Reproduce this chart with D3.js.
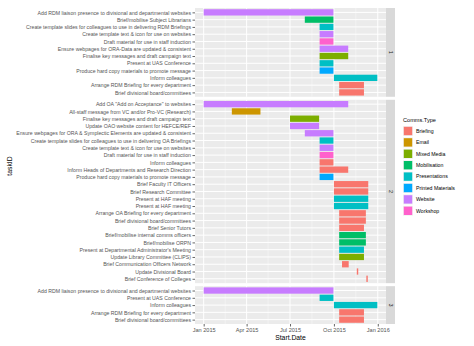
<!DOCTYPE html>
<html><head><meta charset="utf-8">
<script src="https://cdn.jsdelivr.net/npm/d3@7"></script>
<style>body{margin:0;background:#fff}svg{display:block;font-family:"Liberation Sans",Arial,sans-serif}</style>
</head><body><svg id="c" width="474" height="346"></svg>
<script>
// ---------- data ----------
const stripLabels = ["1", "2", "3"];
const typeNames = ["Briefing","Email","Mixed Media","Mobilisation","Presentations","Printed Materials","Website","Workshop"];
const typeColors = ["#F8766D","#CD9600","#7CAE00","#00BE67","#00BFC4","#00A9FF","#C77CFF","#FF61CC"];
const xTickLabels = ["Jan 2015","Apr 2015","Jul 2015","Oct 2015","Jan 2016"];
const xTickDates = ["2015-01-01","2015-04-01","2015-07-01","2015-10-01","2016-01-01"];

const panel1Tasks = ["Add RDM liaison presence to divisional and departmental websites","Brief/mobilise Subject Librarians","Create template slides for colleagues to use in delivering RDM Briefings","Create template text & icon for use on websites","Draft material for use in staff induction","Ensure webpages for ORA-Data are updated & consistent","Finalise key messages and draft campaign text","Present at UAS Conference","Produce hard copy materials to promote message","Inform colleagues","Arrange RDM Briefing for every department","Brief divisional board/committees"];
const panel1Types = ["Website","Mobilisation","Presentations","Website","Workshop","Website","Mixed Media","Presentations","Printed Materials","Presentations","Briefing","Briefing"];
const panel1Start = ["2015-01-01","2015-08-01","2015-09-01","2015-09-01","2015-09-01","2015-09-01","2015-09-01","2015-09-01","2015-09-01","2015-10-01","2015-10-12","2015-10-12"];
const panel1End   = ["2015-09-30","2015-09-30","2015-09-30","2015-09-30","2015-09-30","2015-10-31","2015-10-31","2015-09-30","2015-09-30","2015-12-31","2015-12-03","2015-12-03"];

const panel2Tasks = ["Add OA \"Add on Acceptance\" to websites","All-staff message from VC and/or Pro-VC (Research)","Finalise key messages and draft campaign text","Update OAO website content for HEFCE/REF","Ensure webpages for ORA & Symplectic Elements  are updated & consistent","Create template slides for colleagues to use in delivering OA Briefings","Create template text & icon for use on websites","Draft material for use in staff induction","Inform colleagues","Inform Heads of Departments and Research Direction","Produce hard copy materials to promote message","Brief Faculty IT Officers","Brief Research Committee","Present at HAF meeting","Present at HAF meeting ","Arrange OA Briefing for every department","Brief divisional board/committees","Brief Senior Tutors","Brief/mobilise internal comms officers","Brief/mobilise ORPN","Present at Departmental Administrator's Meeting","Update Library Committee (CLIPS)","Brief Communication Officers Network","Update Divisional Board","Brief Conference of Colleges"];
const panel2Types = ["Website","Email","Mixed Media","Website","Website","Presentations","Website","Workshop","Briefing","Briefing","Printed Materials","Briefing","Briefing","Presentations","Presentations","Briefing","Briefing","Briefing","Mobilisation","Mobilisation","Presentations","Mixed Media","Briefing","Briefing","Briefing"];
const panel2Start = ["2015-01-01","2015-03-01","2015-07-01","2015-07-01","2015-08-01","2015-09-01","2015-09-01","2015-09-01","2015-09-01","2015-09-01","2015-09-01","2015-10-01","2015-10-01","2015-10-01","2015-10-01","2015-10-12","2015-10-12","2015-10-12","2015-10-12","2015-10-12","2015-10-12","2015-10-12","2015-10-18","2015-11-18","2015-12-08"];
const panel2End   = ["2015-10-31","2015-04-30","2015-08-31","2015-08-31","2015-09-30","2015-09-30","2015-09-30","2015-09-30","2015-09-30","2015-10-31","2015-09-30","2015-12-12","2015-12-12","2015-12-12","2015-12-12","2015-12-07","2015-12-07","2015-12-03","2015-12-07","2015-12-07","2015-12-03","2015-12-03","2015-11-01","2015-11-21","2015-12-11"];

const panel3Tasks = ["Add RDM liaison presence to divisional and departmental websites","Present at UAS Conference","Inform colleagues","Arrange RDM Briefing for every department","Brief divisional board/committees"];
const panel3Types = ["Website","Presentations","Presentations","Briefing","Briefing"];
const panel3Start = ["2015-01-01","2015-09-01","2015-10-01","2015-10-12","2015-10-12"];
const panel3End   = ["2015-09-30","2015-09-30","2015-12-31","2015-12-03","2015-12-03"];

// ---------- build ----------
(function(){
const parse = d3.utcParse("%Y-%m-%d");
const panels = [
  {tasks:panel1Tasks,types:panel1Types,start:panel1Start,end:panel1End,label:stripLabels[0]},
  {tasks:panel2Tasks,types:panel2Types,start:panel2Start,end:panel2End,label:stripLabels[1]},
  {tasks:panel3Tasks,types:panel3Types,start:panel3Start,end:panel3End,label:stripLabels[2]}
];
const color = d3.scaleOrdinal(typeNames, typeColors);

const svg = d3.select("#c");
const pl = 195, pr = 386, pTop = 8, pBottom = 324, gap = 3;
const stripW = 9;

const allDates = panels.flatMap(p => p.start.concat(p.end).map(parse));
const [mn, mx] = d3.extent(allDates);
const span = mx - mn;
const x = d3.scaleUtc().domain([new Date(+mn - span*0.05), new Date(+mx + span*0.05)]).range([pl, pr]);

const units = panels.map(p => p.tasks.length - 1 + 1.2);
const totalU = d3.sum(units);
const avail = pBottom - pTop - gap*(panels.length-1);
let yCur = pTop;
const minorDates = ["2015-02-15","2015-05-16","2015-08-16","2015-11-16"].map(parse);
const majorDates = xTickDates.map(parse);

panels.forEach((p, pi) => {
  const h = avail * units[pi] / totalU;
  const y0 = yCur, y1 = yCur + h;
  yCur = y1 + gap;
  const idx = p.tasks.map((t, i) => i);
  const y = d3.scalePoint().domain(idx).range([y0, y1]).padding(0.6);
  const g = svg.append("g");
  g.append("rect").attr("x", pl).attr("y", y0).attr("width", pr-pl).attr("height", h).attr("fill", "#EBEBEB");
  g.selectAll(".mn").data(minorDates).join("line")
    .attr("x1", d=>x(d)).attr("x2", d=>x(d)).attr("y1", y0).attr("y2", y1)
    .attr("stroke", "#fff").attr("stroke-width", 0.5).attr("opacity",0.9);
  g.selectAll(".mj").data(majorDates).join("line")
    .attr("x1", d=>x(d)).attr("x2", d=>x(d)).attr("y1", y0).attr("y2", y1)
    .attr("stroke", "#fff").attr("stroke-width", 1);
  g.selectAll(".hg").data(idx).join("line")
    .attr("x1", pl).attr("x2", pr).attr("y1", d=>y(d)).attr("y2", d=>y(d))
    .attr("stroke", "#fff").attr("stroke-width", 1);
  const bh = 6.3;
  g.selectAll(".bar").data(idx).join("rect")
    .attr("x", i => x(parse(p.start[i])))
    .attr("width", i => Math.max(1.2, x(parse(p.end[i])) - x(parse(p.start[i]))))
    .attr("y", i => y(i) - bh/2).attr("height", bh)
    .attr("fill", i => color(p.types[i]));
  const ya = g.append("g").attr("transform", `translate(${pl},0)`)
    .call(d3.axisLeft(y).tickSize(2.5).tickPadding(1.5).tickFormat(i => p.tasks[i]));
  ya.select(".domain").remove();
  ya.selectAll("line").attr("stroke", "#666");
  ya.selectAll("text").attr("font-size", 5.2).attr("fill", "#555").attr("font-family", "Liberation Sans, Arial, sans-serif");
  g.append("rect").attr("x", pr).attr("y", y0).attr("width", stripW).attr("height", h).attr("fill", "#D9D9D9");
  g.append("text").attr("transform", `translate(${pr + stripW/2},${(y0+y1)/2}) rotate(90)`)
    .attr("text-anchor", "middle").attr("dy", "0.35em").attr("font-size", 5.5).attr("fill", "#1A1A1A").text(p.label);
});

const xa = svg.append("g").attr("transform", `translate(0,${pBottom})`)
  .call(d3.axisBottom(x).tickValues(majorDates).tickSize(2.5).tickPadding(2)
    .tickFormat((d, i) => xTickLabels[i]));
xa.select(".domain").remove();
xa.selectAll("line").attr("stroke", "#666");
xa.selectAll("text").attr("font-size", 5.6).attr("fill", "#555").attr("font-family", "Liberation Sans, Arial, sans-serif");

svg.append("text").attr("x", (pl+pr)/2).attr("y", 340).attr("text-anchor", "middle")
  .attr("font-size", 6.8).attr("fill", "#000").text("Start.Date");
svg.append("text").attr("transform", `translate(12,${(pTop+pBottom)/2}) rotate(-90)`).attr("text-anchor", "middle")
  .attr("font-size", 6.8).attr("fill", "#000").text("taskID");

const lg = svg.append("g").attr("transform", "translate(403,0)");
lg.append("text").attr("x", 0).attr("y", 122).attr("font-size", 5.6).attr("fill", "#000").text("Comms.Type");
const ki = lg.selectAll(".k").data(typeNames).join("g").attr("transform", (d,i) => `translate(0,${126 + i*11.4})`);
ki.append("rect").attr("width", 10).attr("height", 10).attr("fill", "#F2F2F2");
ki.append("rect").attr("x", 0.8).attr("y", 0.8).attr("width", 8.4).attr("height", 8.4).attr("fill", d => color(d));
ki.append("text").attr("x", 13).attr("y", 5).attr("dy", "0.35em").attr("font-size", 5.2).attr("fill", "#000").text(d => d);
})();
</script></body></html>
